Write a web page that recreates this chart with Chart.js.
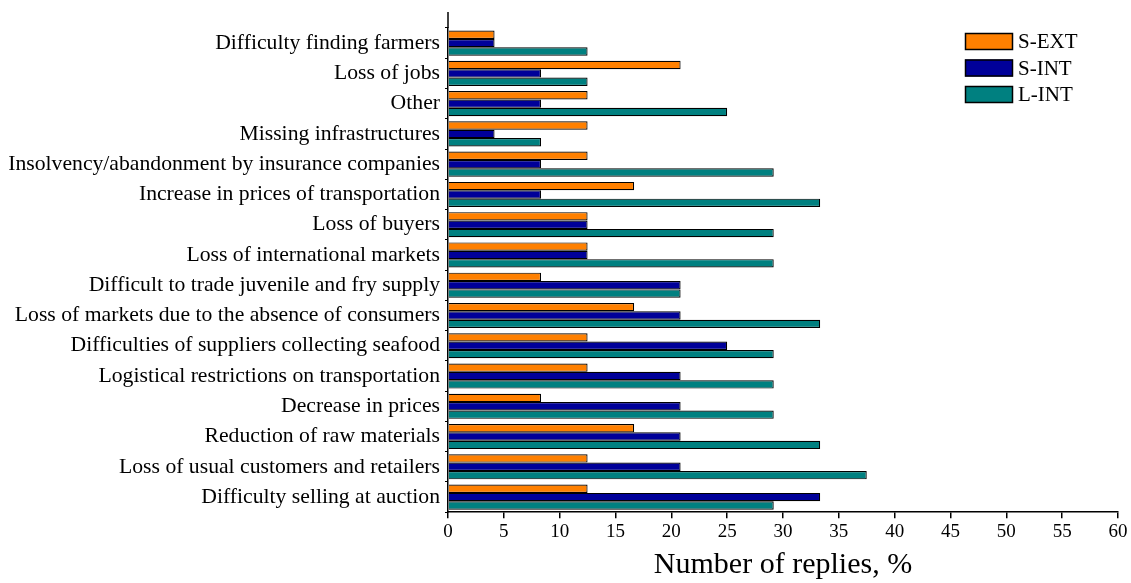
<!DOCTYPE html>
<html>
<head>
<meta charset="utf-8">
<script src="https://cdn.jsdelivr.net/npm/chart.js@4/dist/chart.umd.min.js"></script>
<style>
  html, body { margin: 0; padding: 0; background: #fff; }
  #wrap { width: 1131px; height: 583px; position: relative; }
</style>
</head>
<body>
<div id="wrap"><canvas id="myChart"></canvas></div>
<script>
// categories, top to bottom
var categories = [
  'Difficulty finding farmers',
  'Loss of jobs',
  'Other',
  'Missing infrastructures',
  'Insolvency/abandonment by insurance companies',
  'Increase in prices of transportation',
  'Loss of buyers',
  'Loss of international markets',
  'Difficult to trade juvenile and fry supply',
  'Loss of markets due to the absence of consumers',
  'Difficulties of suppliers collecting seafood',
  'Logistical restrictions on transportation',
  'Decrease in prices',
  'Reduction of raw materials',
  'Loss of usual customers and retailers',
  'Difficulty selling at auction'
];

var sExt = [4.17, 20.83, 12.5, 12.5, 12.5, 16.67, 12.5, 12.5, 8.33, 16.67, 12.5, 12.5, 8.33, 16.67, 12.5, 12.5];
var sInt = [4.17, 8.33, 8.33, 4.17, 8.33, 8.33, 12.5, 12.5, 20.83, 20.83, 25, 20.83, 20.83, 20.83, 20.83, 33.33];
var lInt = [12.5, 12.5, 25, 8.33, 29.17, 33.33, 29.17, 29.17, 20.83, 33.33, 29.17, 29.17, 29.17, 33.33, 37.5, 29.17];

var seriesNames = ['S-EXT', 'S-INT', 'L-INT'];
var seriesColors = ['#ff8000', '#000099', '#008080'];

var serif = "'Liberation Serif', 'Times New Roman', serif";

// extends the y axis line above the first category and draws the legend box
var extrasPlugin = {
  id: 'extras',
  afterDraw: function (chart) {
    var c = chart.ctx;
    var area = chart.chartArea;
    c.save();
    c.strokeStyle = '#000';
    c.lineWidth = 1.5;
    c.beginPath();
    c.moveTo(area.left, 12);
    c.lineTo(area.left, area.top);
    c.stroke();

    c.font = '21px ' + serif;
    c.textBaseline = 'middle';
    for (var i = 0; i < seriesNames.length; i++) {
      var y = 33 + i * 26.5;
      c.fillStyle = seriesColors[i];
      c.fillRect(965, y, 48, 17);
      c.strokeStyle = '#000';
      c.lineWidth = 1.5;
      c.strokeRect(965.5, y + 0.5, 47, 16);
      c.fillStyle = '#000';
      c.fillText(seriesNames[i], 1018, y + 9.5);
    }
    c.restore();
  }
};

var ctx = document.getElementById('myChart').getContext('2d');

var myChart = new Chart(ctx, {
  type: 'bar',
  data: {
    labels: categories,
    datasets: [
      { label: seriesNames[0], data: sExt, backgroundColor: seriesColors[0], borderColor: '#000', borderWidth: 1.2 },
      { label: seriesNames[1], data: sInt, backgroundColor: seriesColors[1], borderColor: '#000', borderWidth: 1.2 },
      { label: seriesNames[2], data: lInt, backgroundColor: seriesColors[2], borderColor: '#000', borderWidth: 1.2 }
    ]
  },
  options: {
    indexAxis: 'y',
    responsive: true,
    maintainAspectRatio: false,
    animation: false,
    layout: { padding: { top: 28, right: 13, left: 0, bottom: 3 } },
    datasets: { bar: { categoryPercentage: 0.83, barPercentage: 1.0 } },
    plugins: {
      legend: { display: false },
      tooltip: { enabled: false }
    },
    scales: {
      x: {
        min: 0,
        max: 60,
        ticks: { stepSize: 5, color: '#000', font: { family: serif, size: 19 }, padding: 2, maxRotation: 0 },
        grid: { drawOnChartArea: false, drawTicks: true, tickLength: 6, color: '#000', lineWidth: 1.5 },
        border: { color: '#000', width: 1.5 },
        title: { display: true, text: 'Number of replies, %', color: '#000', font: { family: serif, size: 30, lineHeight: 1.0 }, padding: { top: 5, bottom: 0 } }
      },
      y: {
        afterFit: function (scale) { scale.width = 448; },
        ticks: { color: '#000', font: { family: serif, size: 21.7 }, padding: 5, autoSkip: false },
        grid: { drawOnChartArea: false, drawTicks: true, tickLength: 3, color: '#000', offset: true },
        border: { color: '#000', width: 1.5 }
      }
    }
  },
  plugins: [extrasPlugin]
});
</script>
</body>
</html>
